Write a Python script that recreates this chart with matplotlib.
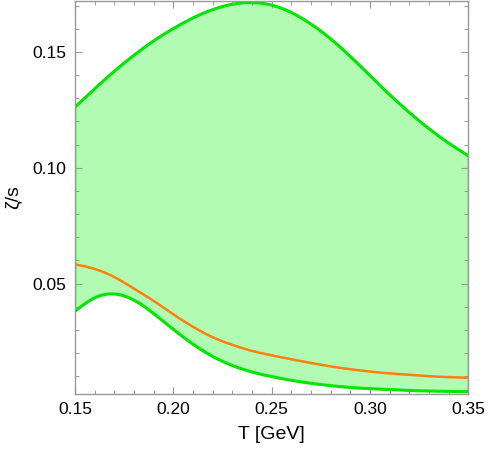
import numpy as np
import matplotlib
matplotlib.use("Agg")
import matplotlib.pyplot as plt
from matplotlib.ticker import MultipleLocator

T = [0.15, 0.16, 0.17, 0.18, 0.19, 0.20, 0.21, 0.22, 0.23, 0.24, 0.25,
     0.26, 0.27, 0.28, 0.29, 0.30, 0.31, 0.32, 0.33, 0.34, 0.35]

upper_v = [0.1262, 0.1341, 0.1417, 0.1486, 0.1548, 0.1601, 0.1647, 0.1683, 0.1706, 0.1713, 0.1702,
           0.1670, 0.1620, 0.1556, 0.1480, 0.1397, 0.1315, 0.1238, 0.1168, 0.1106, 0.1051]

lower_v = [0.0381, 0.0438, 0.0455, 0.0428, 0.0370, 0.0302, 0.0238, 0.0185, 0.0146, 0.0118, 0.0098,
           0.0082, 0.0069, 0.0059, 0.0051, 0.0046, 0.0042, 0.0038, 0.0036, 0.0034, 0.0033]

orange_v = [0.0583, 0.0563, 0.0528, 0.0478, 0.0425, 0.0367, 0.0313, 0.0268, 0.0235, 0.0209, 0.0190,
            0.0173, 0.0157, 0.0142, 0.0130, 0.0120, 0.0112, 0.0106, 0.0100, 0.0096, 0.0093]

x_ticks = [0.15, 0.20, 0.25, 0.30, 0.35]
x_ticklabels = ["0.15", "0.20", "0.25", "0.30", "0.35"]
y_ticks = [0.05, 0.10, 0.15]
y_ticklabels = ["0.05", "0.10", "0.15"]


def smooth(xs, ys, n=400):
    """Natural cubic spline through the read-off points."""
    xs = np.asarray(xs, float); ys = np.asarray(ys, float)
    N = len(xs); h = np.diff(xs)
    A = np.zeros((N, N)); b = np.zeros(N)
    A[0, 0] = 1; A[-1, -1] = 1
    for i in range(1, N - 1):
        A[i, i - 1] = h[i - 1]; A[i, i] = 2 * (h[i - 1] + h[i]); A[i, i + 1] = h[i]
        b[i] = 6 * ((ys[i + 1] - ys[i]) / h[i] - (ys[i] - ys[i - 1]) / h[i - 1])
    M = np.linalg.solve(A, b)
    xx = np.linspace(xs[0], xs[-1], n)
    idx = np.clip(np.searchsorted(xs, xx) - 1, 0, N - 2)
    x0 = xs[idx]; x1 = xs[idx + 1]; hh = h[idx]
    yy = (M[idx] * (x1 - xx)**3 / (6 * hh) + M[idx + 1] * (xx - x0)**3 / (6 * hh)
          + (ys[idx] / hh - M[idx] * hh / 6) * (x1 - xx)
          + (ys[idx + 1] / hh - M[idx + 1] * hh / 6) * (xx - x0))
    return xx, yy


plt.rcParams['font.family'] = ['Liberation Sans', 'DejaVu Sans']
fig = plt.figure(figsize=(4.88, 4.53), dpi=100)
ax = fig.add_axes([0.1537, 0.1302, 0.8063, 0.8676])

ux, uy = smooth(T, upper_v)
lx, ly = smooth(T, lower_v)
ox, oy = smooth(T, orange_v)

ax.fill_between(ux, ly, uy, color='#b2fbb2', lw=0)
ax.plot([T[0], T[0]], [lower_v[0], upper_v[0]], color='#00e600', lw=1.0)
ax.plot([T[-1], T[-1]], [lower_v[-1], upper_v[-1]], color='#00e600', lw=1.0)
ax.plot(ux, uy, color='#00e600', lw=2.2, solid_capstyle='butt')
ax.plot(lx, ly, color='#00e600', lw=2.2, solid_capstyle='butt')
ax.plot(ox, oy, color='#ff7f0e', lw=1.8)

ax.set_xlim(0.15, 0.35)
ax.set_ylim(0.0023, 0.172)
ax.set_xticks(x_ticks)
ax.set_xticklabels(x_ticklabels)
ax.set_yticks(y_ticks)
ax.set_yticklabels(y_ticklabels)
ax.xaxis.set_minor_locator(MultipleLocator(0.01))
ax.yaxis.set_minor_locator(MultipleLocator(0.01))
ax.tick_params(which='both', direction='in', top=True, right=True, colors='#999999',
               labelcolor='black', labelsize=12.5)
ax.tick_params(which='major', length=5, width=0.8, pad=6)
ax.tick_params(which='minor', length=3, width=0.7)
for s in ax.spines.values():
    s.set_color('#999999')
    s.set_linewidth(1.0)

ax.set_xlabel('T [GeV]', fontsize=14, labelpad=6)
ax.set_ylabel('ζ/s', fontsize=14, labelpad=8)

fig.savefig('out.png', dpi=100)
